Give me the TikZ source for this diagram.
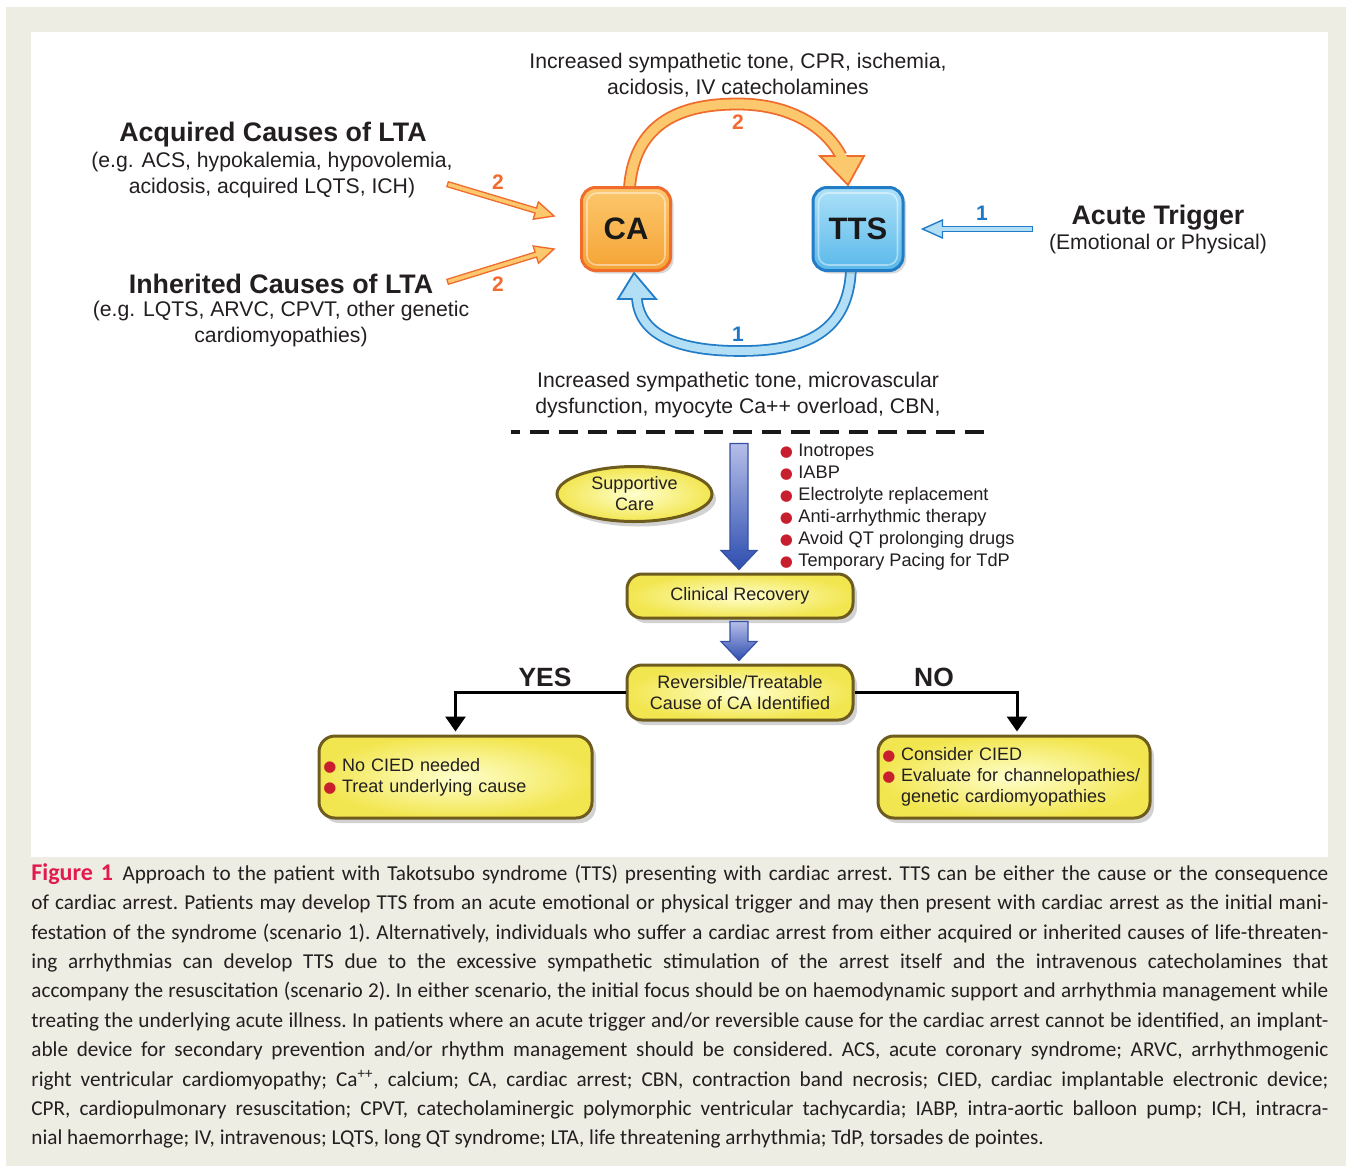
\documentclass[tikz,border=0pt]{standalone}
\usepackage{fontspec}
\setmainfont{Liberation Sans}
\newfontfamily\capfont{Carlito}
\newfontfamily\dejavu{DejaVu Sans}
\usetikzlibrary{calc,shapes.geometric,shadows,arrows.meta}
\definecolor{beige}{RGB}{238,237,227}
\definecolor{txt}{RGB}{35,31,32}
\definecolor{oline}{RGB}{240,108,45}
\definecolor{ofill}{RGB}{252,200,110}
\definecolor{otop}{RGB}{252,200,110}
\definecolor{obot}{RGB}{245,163,52}
\definecolor{bline}{RGB}{35,125,198}
\definecolor{bfill}{RGB}{178,222,246}
\definecolor{btop}{RGB}{172,225,248}
\definecolor{bbot}{RGB}{90,184,234}
\definecolor{olab}{RGB}{242,106,46}
\definecolor{blab}{RGB}{30,120,200}
\definecolor{yline}{RGB}{110,92,30}
\definecolor{yin}{RGB}{255,255,205}
\definecolor{yout}{RGB}{242,230,80}
\definecolor{bulred}{RGB}{200,30,45}
\definecolor{darrtop}{RGB}{182,190,232}
\definecolor{darrbot}{RGB}{45,78,175}
\definecolor{darrline}{RGB}{55,80,165}
\definecolor{figred}{RGB}{226,26,77}

\newcommand\bdot{\makebox[8.5pt][l]{\makebox[5pt][c]{\color{bulred}\dejavu\fontsize{7.5}{7.5}\selectfont ●}}}
\newcommand\capline[1]{\makebox[648.5pt][s]{\spaceskip=0pt\xspaceskip=0pt #1}}

% #1 tail, #2 tip, #3 inner shaft width, #4 head half width, #5 head length, #6 outline, #7 fill, #8 outline width
\newcommand\fatarrow[8]{%
  \coordinate (faB) at ($(#2)!#5!(#1)$);
  \draw[#6, line width=#3+2*#8] (#1) -- (faB);
  \filldraw[fill=#7, draw=#6, line width=#8, line join=miter] ($(faB)!#4!90:(#2)$) -- (#2) -- ($(faB)!#4!-90:(#2)$) -- cycle;
  \draw[#7, line width=#3] ($(#1)!#8!(faB)$) -- ($(faB)!-1pt!(#1)$);
}
% #1 tip coordinate, #2 total length (px units)
\newcommand\blockdown[2]{%
  \shade[top color=darrtop, bottom color=darrbot, draw=darrline, line width=0.6pt]
   ($(#1)+(-9,-#2)$) -- ($(#1)+(9,-#2)$) -- ($(#1)+(9,-19)$) -- ($(#1)+(18,-19)$) -- (#1)
   -- ($(#1)+(-18,-19)$) -- ($(#1)+(-9,-19)$) -- cycle;
}

\begin{document}
\begin{tikzpicture}[x=0.5pt,y=-0.5pt,
  txtn/.style={text=txt, inner sep=0pt, align=center, font=\fontsize{10.6}{13}\selectfont},
  headn/.style={text=txt, inner sep=0pt, align=center, font=\bfseries\fontsize{13.4}{16}\selectfont},
  numo/.style={text=olab, inner sep=0pt, font=\bfseries\fontsize{10.5}{12}\selectfont},
  numb/.style={text=blab, inner sep=0pt, font=\bfseries\fontsize{10.5}{12}\selectfont},
  bigbox/.style={rounded corners=7pt, line width=1.5pt, minimum width=44.5pt, minimum height=41.5pt,
     font=\bfseries\fontsize{15.5}{18}\selectfont, text=black!90,
     drop shadow={shadow xshift=1.5pt, shadow yshift=-1.5pt, opacity=0.3}},
  ybox/.style={rounded corners=7.5pt, draw=yline, line width=1.5pt, inner color=yin, outer color=yout,
     text=txt, font=\fontsize{9}{10.5}\selectfont, align=center,
     drop shadow={shadow xshift=2pt, shadow yshift=-2.5pt, opacity=0.35}},
  conn/.style={line width=1.5pt, black, -{Triangle[width=10pt,length=7.5pt]}, shorten >=1.5pt},
]
% background
\fill[white] (0,0) rectangle (1352,1172);
\fill[beige] (6,7) rectangle (1346,1166);
\fill[white] (31,32) rectangle (1328,857);

% texts
\node[txtn] (toptxt) at (738,75) {Increased sympathetic tone, CPR, ischemia,\\acidosis, IV catecholamines};
\node[headn] (acqh) at (273,135) {Acquired Causes of LTA};
\node[txtn] (acqs) at (272,175.5) {(e.g. ACS, hypokalemia, hypovolemia,\\acidosis, acquired LQTS, ICH)};
\node[headn] (inhh) at (281,284) {Inherited Causes of LTA};
\node[txtn] (inhs) at (281,324.5) {(e.g. LQTS, ARVC, CPVT, other genetic\\cardiomyopathies)};
\node[headn] (acuh) at (1158,217.5) {Acute Trigger};
\node[txtn] (acus) at (1158,244) {(Emotional or Physical)};
\node[txtn] (bott) at (738,395.5) {Increased sympathetic tone, microvascular\\dysfunction, myocyte Ca++ overload, CBN,};

% main boxes (positions needed for arrows)
\path (626,229) coordinate (CApos) (858,229) coordinate (TTSpos);

% orange arc arrow CA -> TTS
\coordinate (oaS) at (629,200);
\coordinate (oaE) at (841,156);
\coordinate (oaTip) at (848,185);
\draw[oline, line width=6.4pt] (oaS) .. controls (629,116) and (690,104) .. (738,104) .. controls (790,104) and (826,127) .. (oaE);
\filldraw[fill=ofill, draw=oline, line width=0.9pt, line join=miter] (820,156) -- (oaTip) -- (864,156) -- cycle;
\draw[ofill, line width=4.6pt] (oaS) .. controls (629,116) and (690,104) .. (738,104) .. controls (790,104) and (826,127) .. (oaE) -- (844,161);

% blue arc arrow TTS -> CA
\coordinate (baS) at (851,262);
\coordinate (baE) at (637,299);
\coordinate (baTip) at (634,273);
\draw[bline, line width=5.8pt] (baS) .. controls (852,336) and (800,351) .. (740,351) .. controls (680,351) and (640,336) .. (baE);
\filldraw[fill=bfill, draw=bline, line width=0.9pt, line join=miter] (618,299) -- (baTip) -- (656,299) -- cycle;
\draw[bfill, line width=4pt] (baS) .. controls (852,336) and (800,351) .. (740,351) .. controls (680,351) and (640,336) .. (baE) -- (636,294);

\node[bigbox, draw=oline, top color=otop, bottom color=obot] (CA) at (CApos) {CA};
\node[bigbox, draw=bline, top color=btop, bottom color=bbot, minimum width=45pt] (TTS) at (TTSpos) {TTS};
\draw[white, opacity=.45, line width=0.8pt, rounded corners=5pt] ($(CA.north west)+(7,7)$) rectangle ($(CA.south east)+(-7,-7)$);
\draw[white, opacity=.45, line width=0.8pt, rounded corners=5pt] ($(TTS.north west)+(7,7)$) rectangle ($(TTS.south east)+(-7,-7)$);

% straight arrows
\coordinate (acqT) at (447,184);
\coordinate (acqTip) at ($(CA.west)+(-26,-13)$);
\coordinate (inhT) at (447,282);
\coordinate (inhTip) at ($(CA.west)+(-26,20)$);
\coordinate (acuT) at (1033,229);
\coordinate (acuTip) at ($(TTS.east)+(18,0)$);
\fatarrow{acqT}{acqTip}{1.8pt}{4.5pt}{9.5pt}{oline}{ofill}{0.7pt}
\fatarrow{inhT}{inhTip}{1.8pt}{4.5pt}{9.5pt}{oline}{ofill}{0.7pt}
\fatarrow{acuT}{acuTip}{1.8pt}{4.5pt}{10pt}{bline}{bfill}{0.7pt}

% number labels
\node[numo] (n2top) at (738,122) {2};
\node[numb] (n1bot) at (738,334) {1};
\node[numo] (n2a) at (498,182) {2};
\node[numo] (n2b) at (498,284) {2};
\node[numb] (n1acu) at (982,213) {1};

% dashed separator
\coordinate (dL) at (511,432);
\coordinate (dR) at (986,432);
\draw[line width=2pt, black!90, dash pattern=on 9.5pt off 5pt, dash phase=5pt] (dL) -- (dR);

% lower flow
\node[ybox, minimum width=113pt, minimum height=22pt] (clin) at (740,596) {Clinical Recovery};
\node[ybox, minimum width=113pt, minimum height=27.5pt] (rev) at (740,692.5) {Reversible/Treatable\\Cause of CA Identified};
\node[ybox, ellipse, minimum width=77.5pt, minimum height=27.5pt, inner sep=0pt] (supp) at (634.5,494) {Supportive\\Care};
\node[ybox, rounded corners=8pt, minimum height=41pt, text width=130.5pt, inner xsep=3pt, align=left] (lbox) at (455.5,777) {\bdot No CIED needed\\\bdot Treat underlying cause};
\node[ybox, rounded corners=8pt, minimum height=41pt, text width=130pt, inner xsep=3pt, align=left] (rbox) at (1014,777) {\bdot Consider CIED\\\bdot Evaluate for channelopathies/\\\hspace*{8.5pt}genetic cardiomyopathies};

\node[anchor=west, inner sep=0pt, align=left, text=txt, font=\fontsize{9.1}{11}\selectfont] (blist) at (781,507)
 {\bdot Inotropes\\\bdot IABP\\\bdot Electrolyte replacement\\\bdot Anti-arrhythmic therapy\\\bdot Avoid QT prolonging drugs\\\bdot Temporary Pacing for TdP};

\coordinate (a1tip) at ($(clin.north)+(-1,-3)$);
\coordinate (a2tip) at ($(rev.north)+(-1,-3)$);
\blockdown{a1tip}{126}
\blockdown{a2tip}{39}

\node[headn, font=\bfseries\fontsize{13.2}{15}\selectfont] (yes) at (545,677) {YES};
\node[headn, font=\bfseries\fontsize{13.2}{15}\selectfont] (no) at (934,677) {NO};
\draw[conn] (rev.west) -| (lbox.north);
\draw[conn] (rev.east) -| ($(rbox.north)+(3,0)$);

% caption
\node[anchor=north west, inner sep=0pt, text width=648.5pt, align=left, text=txt,
      font=\capfont\frenchspacing\fontsize{10.6}{14.7}\selectfont] (cap) at (31,863) {%
\capline{{\bfseries\color{figred}\fontsize{12}{14.7}\selectfont Figure 1}\hspace{0.45em}Approach to the patient with Takotsubo syndrome (TTS) presenting with cardiac arrest. TTS can be either the cause or the consequence}\\
\capline{of cardiac arrest. Patients may develop TTS from an acute emotional or physical trigger and may then present with cardiac arrest as the initial mani-}\\
\capline{festation of the syndrome (scenario 1). Alternatively, individuals who suffer a cardiac arrest from either acquired or inherited causes of life-threaten-}\\
\capline{ing arrhythmias can develop TTS due to the excessive sympathetic stimulation of the arrest itself and the intravenous catecholamines that}\\
\capline{accompany the resuscitation (scenario 2). In either scenario, the initial focus should be on haemodynamic support and arrhythmia management while}\\
\capline{treating the underlying acute illness. In patients where an acute trigger and/or reversible cause for the cardiac arrest cannot be identified, an implant-}\\
\capline{able device for secondary prevention and/or rhythm management should be considered. ACS, acute coronary syndrome; ARVC, arrhythmogenic}\\
\capline{right ventricular cardiomyopathy; Ca\textsuperscript{++}, calcium; CA, cardiac arrest; CBN, contraction band necrosis; CIED, cardiac implantable electronic device;}\\
\capline{CPR, cardiopulmonary resuscitation; CPVT, catecholaminergic polymorphic ventricular tachycardia; IABP, intra-aortic balloon pump; ICH, intracra-}\\
\makebox[648.5pt][l]{\spaceskip=0pt\xspaceskip=0pt nial haemorrhage; IV, intravenous; LQTS, long QT syndrome; LTA, life threatening arrhythmia; TdP, torsades de pointes.}};
\end{tikzpicture}
\end{document}
